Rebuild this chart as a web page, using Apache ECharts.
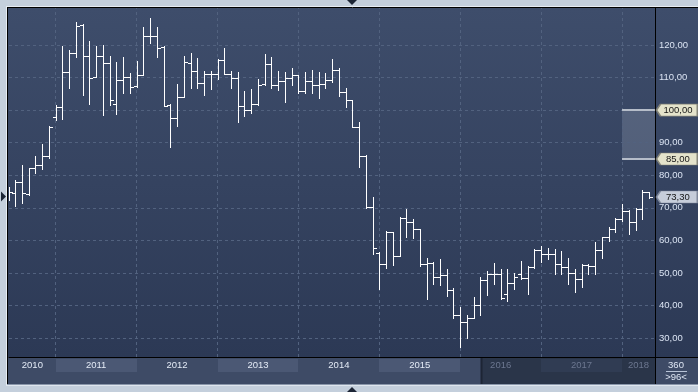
<!DOCTYPE html>
<html><head><meta charset="utf-8">
<script src="https://cdn.jsdelivr.net/npm/echarts@6/dist/echarts.min.js"></script>
<style>html,body{margin:0;padding:0;background:#c4cfdc;}#c{width:698px;height:392px;}</style>
</head><body><div id="c"></div>
<script>
const months = [
 '2010-06','2010-07','2010-08','2010-09','2010-10','2010-11','2010-12',
 '2011-01','2011-02','2011-03','2011-04','2011-05','2011-06','2011-07','2011-08','2011-09','2011-10','2011-11','2011-12',
 '2012-01','2012-02','2012-03','2012-04','2012-05','2012-06','2012-07','2012-08','2012-09','2012-10','2012-11','2012-12',
 '2013-01','2013-02','2013-03','2013-04','2013-05','2013-06','2013-07','2013-08','2013-09','2013-10','2013-11','2013-12',
 '2014-01','2014-02','2014-03','2014-04','2014-05','2014-06','2014-07','2014-08','2014-09','2014-10','2014-11','2014-12',
 '2015-01','2015-02','2015-03','2015-04','2015-05','2015-06','2015-07','2015-08','2015-09','2015-10','2015-11','2015-12',
 '2016-01','2016-02','2016-03','2016-04','2016-05','2016-06','2016-07','2016-08','2016-09','2016-10','2016-11','2016-12',
 '2017-01','2017-02','2017-03','2017-04','2017-05','2017-06','2017-07','2017-08','2017-09','2017-10','2017-11','2017-12',
 '2018-01','2018-02','2018-03','2018-04','2018-05'];
const openV = [74.0,74.5,78.0,74.3,82.2,83.2,85.8,
 97.8,100.9,111.8,117.4,126.3,116.6,110.3,116.6,114.4,101.8,109.3,110.3,
 107.5,110.7,122.8,122.8,119.5,101.6,97.5,104.0,114.4,112.0,108.4,111.1,
 111.1,115.4,111.0,109.8,101.4,100.1,101.8,107.9,114.2,107.7,108.8,109.8,
 110.8,106.0,109.0,107.6,108.0,109.4,112.4,105.7,103.0,94.9,86.0,70.1,
 56.0,52.7,62.5,55.3,66.8,65.5,63.4,52.8,53.0,48.7,49.5,44.8,
 37.1,34.8,36.2,40.0,47.9,49.7,49.8,43.6,47.0,49.8,48.3,51.8,
 57.0,55.7,55.7,52.8,51.9,50.0,48.0,52.4,52.1,57.0,61.1,63.4,
 66.6,69.0,65.6,69.7,74.8];
const highV = [76.5,78.5,83.0,82.3,86.0,89.6,95.2,
 101.6,119.7,118.5,127.2,126.4,121.2,119.7,120.0,116.6,114.9,116.3,111.5,
 115.1,125.4,128.4,125.6,119.8,102.0,108.0,116.6,117.6,115.9,112.0,112.0,
 115.6,119.0,112.0,111.8,105.9,106.5,109.6,117.1,116.4,112.0,111.8,112.8,
 110.9,111.8,112.3,111.8,111.3,115.7,112.8,106.9,103.1,96.2,86.3,73.2,
 56.5,63.0,62.6,67.1,69.6,66.5,63.5,54.5,53.3,54.3,51.2,45.3,
 39.5,37.1,42.5,48.6,50.7,53.1,51.1,51.3,50.1,53.8,52.1,57.2,
 58.4,57.7,57.2,56.7,54.7,51.3,52.6,52.8,59.6,61.1,64.2,66.9,
 71.3,69.3,70.0,75.6,75.0];
const lowV = [72.5,70.5,71.5,74.0,80.6,82.0,85.3,
 97.0,97.2,106.9,116.4,104.7,101.9,110.3,98.5,101.6,98.8,105.4,105.2,
 107.0,110.7,120.5,116.4,101.3,88.6,95.0,104.0,106.9,106.7,104.5,106.4,
 109.5,111.0,106.7,96.5,98.2,99.0,101.6,107.6,106.9,106.2,102.6,107.7,
 105.2,105.2,105.2,103.6,106.7,108.6,104.4,101.0,94.7,82.6,69.9,55.8,
 45.1,51.4,52.4,55.3,60.9,60.7,52.2,42.0,46.6,46.3,43.0,36.1,
 27.3,30.0,36.1,37.1,43.2,46.6,41.9,41.4,45.0,48.0,43.4,51.6,
 53.3,54.2,49.6,49.6,46.5,44.1,45.8,49.8,49.8,54.7,59.8,62.5,
 65.9,61.8,63.1,66.6,73.0];
const closeV = [74.8,78.0,74.4,82.2,83.2,86.0,94.7,
 100.9,111.8,117.4,125.8,116.6,109.8,116.6,114.4,103.1,109.3,110.3,107.0,
 110.7,122.8,122.8,119.0,101.3,97.5,104.0,114.7,112.0,108.4,111.1,111.1,
 115.4,111.0,109.8,101.4,100.1,101.8,107.6,114.2,107.7,108.8,109.8,110.8,
 106.0,109.0,107.6,108.0,109.1,112.4,105.7,103.0,94.9,86.0,70.1,57.5,
 52.7,62.5,55.3,66.8,65.5,63.4,52.8,53.0,48.7,49.5,44.8,37.1,
 34.8,36.2,40.0,47.9,49.7,49.7,42.4,47.0,48.7,48.3,51.8,57.0,
 55.7,55.7,52.8,51.9,50.0,48.0,52.4,52.1,57.0,61.1,63.4,66.6,
 69.0,65.6,69.7,74.8,73.3];
const yTicks = [30,40,50,60,70,80,90,100,110,120];
const yearLabels = ['2010','2011','2012','2013','2014','2015','2016','2017','2018'];
const boxStart = '2018-01', boxTop = 100, boxBottom = 85, lastPrice = 73.30;
const barCountLabel = '>96<', periodLabel = '360';

// month index (0 = Jan 2011)
const mIdx = s => (parseInt(s.slice(0,4)) - 2011) * 12 + parseInt(s.slice(5,7)) - 1;
const ohlc = months.map((m,i) => [mIdx(m), openV[i], highV[i], lowV[i], closeV[i]]);
const years = yearLabels.map(y => { const s = (parseInt(y) - 2011) * 12; return [s, s + 12, y, parseInt(y)]; });

const X_MIN = -6.93, X_MAX = 88.89, Y_MIN = 24.16, Y_MAX = 131.37, NAV_START = 63.25;
const fmt = v => v.toFixed(2).replace('.', ',');
const FONT = '"Liberation Sans", Arial, sans-serif';

const chart = echarts.init(document.getElementById('c'), null, {renderer: 'canvas'});
const tagPath = 'path://M0,6L4,0L40,0L40,12L4,12Z';
const tag = (v, fill, stroke) => ({
  coord: [X_MAX - 0.01, v], value: v,
  itemStyle: {color: fill, borderColor: stroke, borderWidth: 1},
  label: {formatter: fmt(v)}
});

chart.setOption({
  animation: false,
  backgroundColor: '#c4cfdc',
  grid: [
    {left: 9, top: 8, width: 646, height: 349, outerBoundsMode: 'none', containLabel: false},
    {left: 9, top: 358, width: 646, height: 26, outerBoundsMode: 'none', containLabel: false}
  ],
  xAxis: [
    {gridIndex: 0, type: 'value', min: X_MIN, max: X_MAX,
     axisLine: {show: true, onZero: false, lineStyle: {color: '#000', width: 1}},
     axisTick: {show: false}, axisLabel: {show: false}, splitLine: {show: false}},
    {gridIndex: 1, type: 'value', min: X_MIN, max: X_MAX, show: false}
  ],
  yAxis: [
    {gridIndex: 0, type: 'value', position: 'right', min: Y_MIN, max: Y_MAX,
     axisLine: {show: true, onZero: false, lineStyle: {color: '#000', width: 1}},
     axisTick: {show: false}, splitLine: {show: false},
     axisLabel: {customValues: yTicks, formatter: fmt, color: '#dbe4f3', fontSize: 9.5,
                 fontFamily: FONT, margin: 4}},
    {gridIndex: 1, type: 'value', position: 'right', min: 0, max: 1,
     axisLine: {show: true, onZero: false, lineStyle: {color: '#000', width: 1}},
     axisTick: {show: false}, axisLabel: {show: false}, splitLine: {show: false}}
  ],
  graphic: [
    {type: 'rect', z: -10, shape: {x: 8, y: 8, width: 690, height: 349},
     style: {fill: new echarts.graphic.LinearGradient(0, 0, 0, 1, [
       {offset: 0, color: '#3e4d6b'}, {offset: 1, color: '#2c3955'}])}},
    {type: 'rect', z: -10, shape: {x: 8, y: 357, width: 690, height: 27}, style: {fill: '#3e4b66'}},
    {type: 'line', z: 100, shape: {x1: 6, y1: 6.5, x2: 698, y2: 6.5}, style: {stroke: '#e6ecf3', lineWidth: 1}},
    {type: 'line', z: 100, shape: {x1: 6.5, y1: 6, x2: 6.5, y2: 386}, style: {stroke: '#e6ecf3', lineWidth: 1}},
    {type: 'line', z: 100, shape: {x1: 7, y1: 7.5, x2: 698, y2: 7.5}, style: {stroke: '#000', lineWidth: 1}},
    {type: 'line', z: 100, shape: {x1: 7.5, y1: 7, x2: 7.5, y2: 385}, style: {stroke: '#000', lineWidth: 1}},
    {type: 'line', z: 100, shape: {x1: 7, y1: 384.5, x2: 698, y2: 384.5}, style: {stroke: '#8a97ab', lineWidth: 1}},
    {type: 'line', z: 100, shape: {x1: 6, y1: 385.5, x2: 698, y2: 385.5}, style: {stroke: '#dfe6ee', lineWidth: 1}},
    {type: 'line', z: 100, shape: {x1: 655, y1: 357.5, x2: 698, y2: 357.5}, style: {stroke: '#000', lineWidth: 1}},
    {type: 'polygon', z: 100, shape: {points: [[347, 0], [357, 0], [352, 5]]}, style: {fill: '#1c2535'}},
    {type: 'polygon', z: 100, shape: {points: [[347, 392], [357, 392], [352, 387]]}, style: {fill: '#1c2535'}},
    {type: 'polygon', z: 100, shape: {points: [[1, 191.5], [1, 201.5], [6, 196.5]]}, style: {fill: '#1c2535'}},
    {type: 'text', z: 100, style: {text: periodLabel, x: 676, y: 365, align: 'center', verticalAlign: 'middle',
      fill: '#dfe7f4', font: '9.5px ' + FONT}},
    {type: 'line', z: 100, shape: {x1: 666, y1: 371.5, x2: 687, y2: 371.5}, style: {stroke: '#b8c3d6', lineWidth: 1}},
    {type: 'text', z: 100, style: {text: barCountLabel, x: 676, y: 377, align: 'center', verticalAlign: 'middle',
      fill: '#dfe7f4', font: '9.5px ' + FONT}}
  ],
  series: [
    {
      type: 'line', data: [], xAxisIndex: 0, yAxisIndex: 0, z: 1, silent: true,
      markLine: {z: 1, silent: true, symbol: ['none', 'none'], label: {show: false},
        lineStyle: {color: '#52627f', type: [3, 3], width: 1},
        data: [...yTicks.map(v => ({yAxis: v})), ...years.slice(1).map(y => ({xAxis: y[0]}))]},
      markArea: {z: 1, silent: true, itemStyle: {color: 'rgba(225,232,245,0.17)'},
        data: [[{coord: [mIdx(boxStart), boxTop]}, {coord: [X_MAX - 0.01, boxBottom]}]]}
    },
    {
      type: 'custom', name: 'OHLC', xAxisIndex: 0, yAxisIndex: 0, z: 3, clip: true,
      data: ohlc, encode: {x: 0, y: [1, 2, 3, 4]},
      renderItem: (params, api) => {
        const k = api.value(0);
        const o = api.coord([k, api.value(1)]);
        const h = api.coord([k, api.value(2)]);
        const l = api.coord([k, api.value(3)]);
        const c = api.coord([k, api.value(4)]);
        const x = Math.round(o[0]) + 0.5;
        const oy = Math.round(o[1]) + 0.5, cy = Math.round(c[1]) + 0.5;
        const st = {stroke: '#ffffff', lineWidth: 1};
        return {type: 'group', children: [
          {type: 'line', shape: {x1: x, y1: Math.round(h[1]), x2: x, y2: Math.round(l[1]) + 1}, style: st},
          {type: 'line', shape: {x1: x - 3.5, y1: oy, x2: x, y2: oy}, style: st},
          {type: 'line', shape: {x1: x, y1: cy, x2: x + 3.5, y2: cy}, style: st}
        ]};
      }
    },
    {
      type: 'line', data: [], xAxisIndex: 0, yAxisIndex: 0, z: 10, silent: true,
      markLine: {z: 10, silent: true, symbol: ['none', 'none'], label: {show: false},
        lineStyle: {color: '#b6bdc9', type: 'solid', width: 2},
        data: [
          [{coord: [mIdx(boxStart), boxTop]}, {coord: [X_MAX - 0.01, boxTop]}],
          [{coord: [mIdx(boxStart), boxBottom]}, {coord: [X_MAX - 0.01, boxBottom]}]
        ]},
      markPoint: {z: 10, silent: true, symbol: tagPath, symbolSize: [41, 12], symbolOffset: [22, 0],
        label: {show: true, position: 'inside', offset: [1, 0], color: '#151515', fontSize: 9.5, fontFamily: FONT},
        data: [tag(boxTop, '#e4e3cb', '#85857a'), tag(boxBottom, '#e4e3cb', '#85857a'), tag(lastPrice, '#c6cdda', '#7f889b')]}
    },
    {
      type: 'custom', xAxisIndex: 1, yAxisIndex: 1, z: 1, silent: true,
      data: [[NAV_START, X_MAX]],
      renderItem: (params, api) => {
        const cs = params.coordSys;
        const x0 = Math.round(api.coord([api.value(0), 0])[0]);
        return {type: 'group', children: [
          {type: 'rect', shape: {x: x0, y: cs.y, width: cs.x + cs.width - x0, height: cs.height}, style: {fill: '#2a3549'}},
          {type: 'line', shape: {x1: x0 - 0.5, y1: cs.y, x2: x0 - 0.5, y2: cs.y + cs.height}, style: {stroke: '#1d2535', lineWidth: 2}}
        ]};
      }
    },
    {
      type: 'custom', xAxisIndex: 1, yAxisIndex: 1, z: 2, silent: true, clip: false,
      data: years,
      renderItem: (params, api) => {
        const cs = params.coordSys;
        const s = api.coord([api.value(0), 0])[0];
        const e = api.coord([api.value(1), 0])[0];
        const navX = Math.round(api.coord([NAV_START, 0])[0]);
        const x0 = Math.max(s, cs.x), x1 = Math.min(e, cs.x + cs.width);
        const ch = [];
        if (x1 <= x0) return {type: 'group', children: []};
        if (api.value(3) % 2 === 1) {
          if (x0 < navX) ch.push({type: 'rect', shape: {x: Math.round(x0), y: cs.y + 1, width: Math.round(Math.min(x1, navX - 1)) - Math.round(x0), height: 13}, style: {fill: '#4b5874'}});
          if (x1 > navX) ch.push({type: 'rect', shape: {x: Math.round(Math.max(x0, navX)), y: cs.y + 1, width: Math.round(x1) - Math.round(Math.max(x0, navX)), height: 13}, style: {fill: '#303c53'}});
        }
        const cx = (x0 + x1) / 2;
        ch.push({type: 'text', style: {text: api.value(2) + '', x: cx, y: cs.y + 7.5, align: 'center', verticalAlign: 'middle',
          fill: cx > navX ? '#6c7790' : '#e4ebf6', font: '9.5px ' + FONT}});
        return {type: 'group', children: ch};
      }
    }
  ]
});
</script></body></html>
